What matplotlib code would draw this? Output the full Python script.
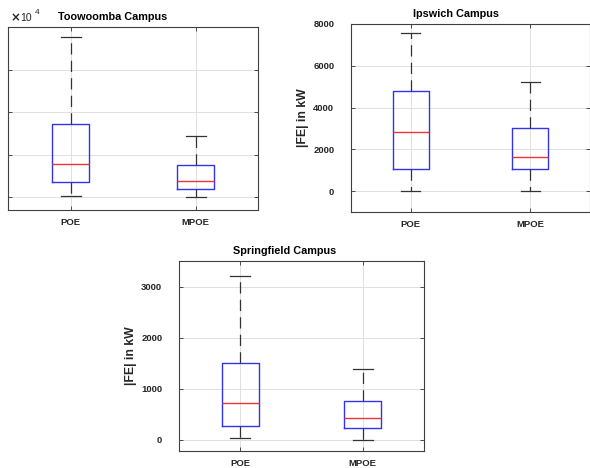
import matplotlib.pyplot as plt
from matplotlib.ticker import FuncFormatter

plt.rcParams['font.family'] = ['Liberation Sans', 'DejaVu Sans']
plt.rcParams['font.weight'] = 'bold'

groups = ['POE', 'MPOE']

# box statistics: low whisker, Q1, median, Q3, high whisker (kW)
toowoomba = {
    'POE': [200, 3600, 7700, 17200, 37600],
    'MPOE': [0, 1900, 3800, 7500, 14400],
}
ipswich = {
    'POE': [0, 1080, 2820, 4800, 7560],
    'MPOE': [0, 1035, 1655, 3015, 5245],
}
springfield = {
    'POE': [27, 267, 721, 1495, 3210],
    'MPOE': [0, 228, 423, 768, 1392],
}

W, H = 590, 468
fig = plt.figure(figsize=(W / 100, H / 100), dpi=100)


def px_axes(left, top, right, bottom):
    return fig.add_axes([left / W, 1 - bottom / H, (right - left) / W, (bottom - top) / H])


def draw_box(ax, stats, title, title_x, ylim, yticks, ylabel=None, tickpad=12):
    bxp = []
    for g in groups:
        lo, q1, med, q3, hi = stats[g]
        bxp.append(dict(label=g, whislo=lo, q1=q1, med=med, q3=q3, whishi=hi, fliers=[]))
    ax.bxp(bxp, positions=[1, 2], widths=0.3, capwidths=0.16, showfliers=False,
           boxprops=dict(color='#3333ee', linewidth=1.0),
           medianprops=dict(color='#ee3333', linewidth=1.0),
           whiskerprops=dict(color='#333333', linewidth=0.9, linestyle=(0, (9, 5))),
           capprops=dict(color='#333333', linewidth=0.9))
    ax.set_xlim(0.5, 2.5)
    ax.set_ylim(*ylim)
    ax.set_yticks(yticks)
    ax.grid(True, color='#e0e0e0', linewidth=0.7)
    ax.set_axisbelow(True)
    ax.tick_params(direction='in', top=True, right=True, length=3, width=0.6,
                   color='#333333', labelsize=6.8, labelcolor='#262626')
    ax.tick_params(axis='y', pad=tickpad)
    ax.tick_params(axis='x', pad=6)
    for s in ax.spines.values():
        s.set_color('#404040')
        s.set_linewidth(0.8)
    for lab in ax.get_xticklabels() + ax.get_yticklabels():
        lab.set_fontweight('bold')
    ax.set_title(title, x=title_x, fontsize=7.8, fontweight='bold', pad=5)
    if ylabel:
        ax.set_ylabel(ylabel, fontsize=8.8, fontweight='bold', labelpad=3, color='#262626')


ax1 = px_axes(8, 27, 258, 210)
draw_box(ax1, toowoomba, 'Toowoomba Campus', 0.42, (-3000, 40000),
         [0, 10000, 20000, 30000, 40000], ylabel='|FE| in kW', tickpad=7)
ax1.yaxis.set_major_formatter(FuncFormatter(lambda v, p: f'{v / 1e4:g}'))
ax1.text(0.008, 1.015, r'$\times$', transform=ax1.transAxes, fontsize=8.5,
         ha='left', va='bottom', color='#262626')
ax1.text(0.048, 1.02, '10', transform=ax1.transAxes, fontsize=7.5,
         ha='left', va='bottom', color='#262626', fontweight='normal')
ax1.text(0.108, 1.06, '4', transform=ax1.transAxes, fontsize=6,
         ha='left', va='bottom', color='#262626', fontweight='normal')

ax2 = px_axes(351, 24, 590, 212)
draw_box(ax2, ipswich, 'Ipswich Campus', 0.44, (-1000, 8000),
         [0, 2000, 4000, 6000, 8000], ylabel='|FE| in kW')

ax3 = px_axes(179, 261, 424, 451)
draw_box(ax3, springfield, 'Springfield Campus', 0.43, (-220, 3500),
         [0, 1000, 2000, 3000], ylabel='|FE| in kW')

fig.savefig('out.png', dpi=100)
